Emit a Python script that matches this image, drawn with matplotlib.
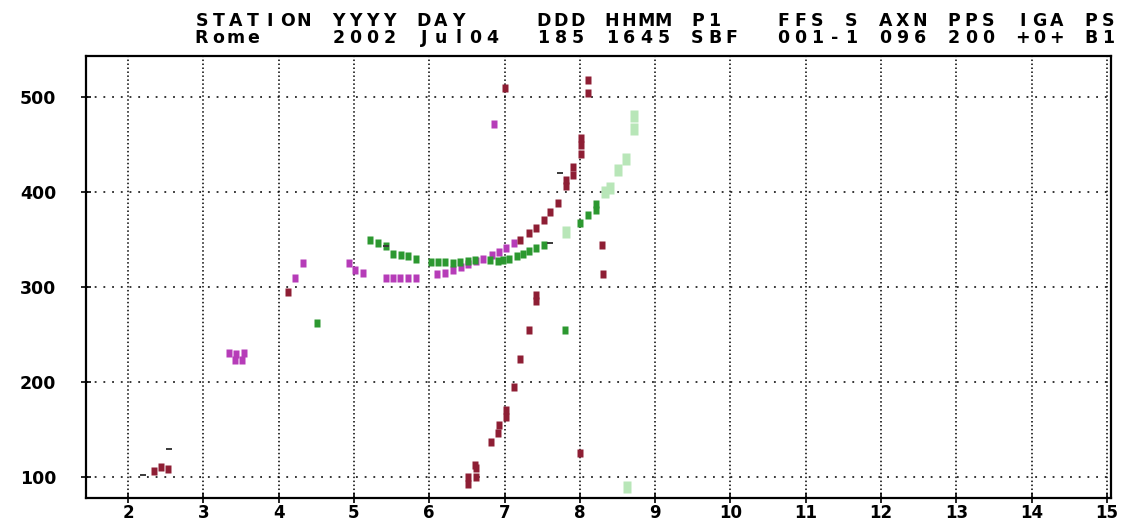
import matplotlib
matplotlib.use("Agg")
import matplotlib.pyplot as plt

# ---- header fields ----
header_top = "STATION YYYY DAY    DDD HHMM P1   FFS S AXN PPS IGA PS"
header_bot = "Rome    2002 Jul04  185 1645 SBF  001-1 096 200 +0+ B1"

# ---- axis ticks ----
freq_ticks = list(range(2, 16))
height_ticks = [100, 200, 300, 400, 500]

# ---- echo traces: frequency (MHz) / virtual height (km) ----
o_freq = [3.34, 3.44, 3.54, 3.42, 3.52, 4.22, 4.32, 4.93, 5.01, 5.12,
          5.43, 5.52, 5.61, 5.72, 5.82, 6.10, 6.21, 6.32, 6.42, 6.52,
          6.62, 6.72, 6.83, 6.93, 7.02, 7.12, 6.86]
o_height = [231, 229, 231, 223, 223, 310, 325, 325, 318, 315,
            310, 310, 310, 310, 310, 314, 315, 318, 321, 324,
            327, 330, 334, 337, 341, 346, 472]

r_freq = [2.34, 2.44, 2.53, 4.12, 7.00, 7.21, 7.32, 7.42, 7.52, 7.61,
          7.71, 7.82, 7.82, 7.91, 7.91, 8.02, 8.02, 8.02, 8.11, 8.11,
          7.42, 7.42, 7.32, 7.21, 7.12, 7.02, 7.02, 6.93, 6.92, 6.82,
          6.62, 6.62, 6.52, 6.52, 8.00, 8.29, 8.31, 6.61]
r_height = [106, 111, 108, 295, 509, 349, 357, 362, 371, 379,
            388, 406, 413, 418, 426, 440, 449, 457, 518, 504,
            285, 292, 255, 224, 195, 163, 171, 155, 146, 137,
            109, 100, 100, 93, 125, 344, 314, 113]

x_freq = [4.51, 5.22, 5.32, 5.42, 5.52, 5.62, 5.72, 5.82, 6.02, 6.11,
          6.21, 6.31, 6.41, 6.51, 6.61, 6.81, 6.92, 6.98, 7.06, 7.16,
          7.24, 7.33, 7.42, 7.52, 7.80, 8.00, 8.11, 8.21, 8.21]
x_height = [262, 349, 346, 343, 335, 334, 333, 329, 326, 326,
            326, 325, 326, 327, 328, 328, 327, 328, 330, 333,
            335, 338, 341, 344, 255, 367, 376, 381, 387]

xf_freq = [8.33, 8.40, 8.51, 8.61, 8.72, 8.72, 8.62, 7.82]
xf_height = [400, 404, 423, 435, 466, 480, 90, 358]

dash_freq = [2.54, 2.20, 7.60, 7.74, 5.42]
dash_height = [129, 102, 346, 420, 343]

# ---- figure ----
W, H = 1123, 525
fig = plt.figure(figsize=(W / 100, H / 100), dpi=100, facecolor="white")
ax = fig.add_axes([86 / W, 1 - 498 / H, (1111 - 86) / W, (498 - 56) / H])
ax.set_xlim(1.442, 15.054)
ax.set_ylim(77.9, 543.2)

# grid: dense dots for frequency lines, sparse dots for height lines
for f in freq_ticks:
    ax.axvline(f, color="black", lw=1.1, ls=(0, (1, 1.6)), zorder=1)
for h in height_ticks:
    ax.axhline(h, color="black", lw=1.1, ls=(0, (1.2, 4.5)), zorder=1)

bar = [(-0.32, -0.5), (0.32, -0.5), (0.32, 0.5), (-0.32, 0.5)]
ax.plot(xf_freq, xf_height, ls="none", marker=bar, ms=9, color="#b8e6b8",
        mec="none", zorder=2)
ax.plot(o_freq, o_height, ls="none", marker=bar, ms=6.2, color="#b63cb8",
        mec="none", zorder=3)
ax.plot(x_freq, x_height, ls="none", marker=bar, ms=6.2, color="#2c9830",
        mec="none", zorder=3)
ax.plot(r_freq, r_height, ls="none", marker=bar, ms=6.2, color="#8e1e34",
        mec="none", zorder=3)
ax.plot(dash_freq, dash_height, ls="none", marker="_", ms=5, mew=1.4,
        color="#3a3a3a", zorder=3)

for s in ax.spines.values():
    s.set_linewidth(1.6)
    s.set_color("black")

ax.set_xticks(freq_ticks)
ax.set_yticks(height_ticks)
ax.tick_params(direction="inout", length=7, width=1.2, colors="black")
ax.tick_params(axis="x", pad=1, labelsize=12)
ax.tick_params(axis="y", pad=18, labelsize=12.5)
for lab in ax.get_xticklabels() + ax.get_yticklabels():
    lab.set_fontfamily("DejaVu Sans")
    lab.set_fontweight("heavy")

# header block, one fixed-width column per character
pitch = 17.1
x0 = 193
for row, (txt, base) in enumerate([(header_top, 26), (header_bot, 43)]):
    for i, ch in enumerate(txt):
        if ch == " ":
            continue
        fig.text((x0 + pitch * i + pitch / 2) / W, 1 - base / H, ch,
                 ha="center", va="baseline", fontsize=12.5,
                 fontfamily="DejaVu Sans", fontweight="bold", color="black")

fig.savefig("out.png", dpi=100, facecolor="white")
